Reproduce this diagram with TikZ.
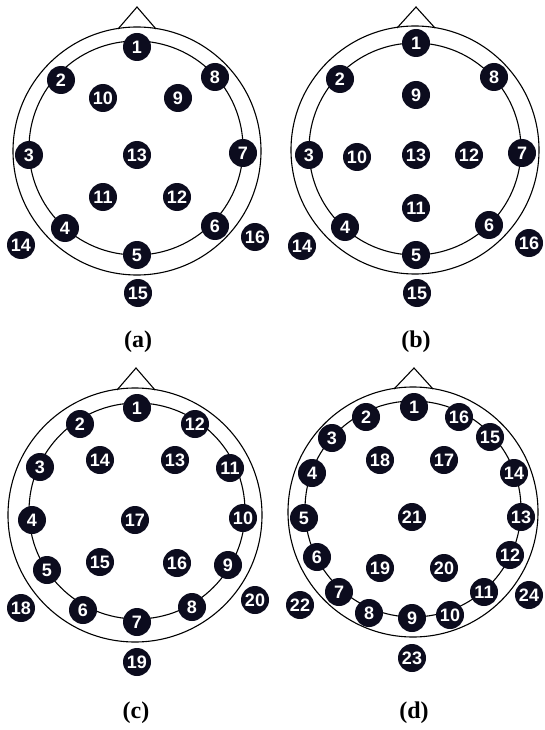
\documentclass[tikz,border=0pt]{standalone}
\usepackage{fontspec}
\setmainfont{Liberation Serif}
\setsansfont{Liberation Sans}
\usepackage{tikz}
\definecolor{elecfill}{RGB}{12,12,30}

\begin{document}
\begin{tikzpicture}[
  x=1pt, y=-1pt,
  head/.style={draw, line width=1.1pt},
  elec/.style={circle, fill=elecfill, text=white, minimum size=28pt, inner sep=0pt,
    font=\sffamily\bfseries\fontsize{18}{18}\selectfont},
  caption/.style={font=\bfseries\fontsize{24}{24}\selectfont}
]
\useasboundingbox (0,0) rectangle (544,730);

% heads
\draw[head] (137,151) circle[radius=124pt];
\draw[head] (136,148) circle[radius=107pt];
\draw[head] (118,29) -- (137,7) -- (156,29);
\draw[head] (415,150) circle[radius=124pt];
\draw[head] (415,149) circle[radius=106pt];
\draw[head] (397,28) -- (416,7) -- (435,28);
\draw[head] (135,515) circle[radius=127pt];
\draw[head] (137,511) circle[radius=108pt];
\draw[head] (117,390) -- (136,368) -- (155,390);
\draw[head] (413,512) circle[radius=125pt];
\draw[head] (413,509) circle[radius=108pt];
\draw[head] (394,389) -- (414,368) -- (433,389);

% (a)
\node[elec] (a1) at (137,47) {1};
\node[elec] (a2) at (61,80) {2};
\node[elec] (a8) at (215,77) {8};
\node[elec] (a10) at (103,98) {10};
\node[elec] (a9) at (178,98) {9};
\node[elec] (a3) at (29,155) {3};
\node[elec] (a13) at (137,155) {13};
\node[elec] (a7) at (243,153) {7};
\node[elec] (a11) at (103,197) {11};
\node[elec] (a12) at (177,197) {12};
\node[elec] (a4) at (65,228) {4};
\node[elec] (a6) at (215,226) {6};
\node[elec] (a5) at (137,255) {5};
\node[elec] (a14) at (21,245) {14};
\node[elec] (a16) at (255,237) {16};
\node[elec] (a15) at (138,293) {15};
\node[caption] (capa) at (138,342) {(a)};

% (b)
\node[elec] (b1) at (416,43) {1};
\node[elec] (b2) at (340,79) {2};
\node[elec] (b8) at (494,77) {8};
\node[elec] (b9) at (416,95) {9};
\node[elec] (b3) at (309,155) {3};
\node[elec] (b10) at (357,157) {10};
\node[elec] (b13) at (416,155) {13};
\node[elec] (b12) at (469,155) {12};
\node[elec] (b7) at (522,153) {7};
\node[elec] (b11) at (416,208) {11};
\node[elec] (b4) at (345,227) {4};
\node[elec] (b6) at (489,225) {6};
\node[elec] (b5) at (416,255) {5};
\node[elec] (b14) at (302,246) {14};
\node[elec] (b16) at (529,243) {16};
\node[elec] (b15) at (417,293) {15};
\node[caption] (capb) at (416,342) {(b)};

% (c)
\node[elec] (c1) at (137,408) {1};
\node[elec] (c2) at (80,424) {2};
\node[elec] (c12) at (195,424) {12};
\node[elec] (c14) at (100,460) {14};
\node[elec] (c13) at (175,460) {13};
\node[elec] (c3) at (40,467) {3};
\node[elec] (c11) at (230,468) {11};
\node[elec] (c4) at (32,520) {4};
\node[elec] (c17) at (135,520) {17};
\node[elec] (c10) at (243,518) {10};
\node[elec] (c15) at (100,562) {15};
\node[elec] (c16) at (177,563) {16};
\node[elec] (c5) at (47,570) {5};
\node[elec] (c9) at (228,565) {9};
\node[elec] (c18) at (21,608) {18};
\node[elec] (c6) at (83,610) {6};
\node[elec] (c7) at (137,622) {7};
\node[elec] (c8) at (192,607) {8};
\node[elec] (c20) at (255,600) {20};
\node[elec] (c19) at (137,662) {19};
\node[caption] (capc) at (136,713) {(c)};

% (d)
\node[elec] (d1) at (414,407) {1};
\node[elec] (d2) at (366,417) {2};
\node[elec] (d16) at (459,417) {16};
\node[elec] (d3) at (332,438) {3};
\node[elec] (d15) at (490,437) {15};
\node[elec] (d18) at (380,460) {18};
\node[elec] (d17) at (444,460) {17};
\node[elec] (d4) at (312,473) {4};
\node[elec] (d14) at (514,473) {14};
\node[elec] (d5) at (304,518) {5};
\node[elec] (d21) at (412,517) {21};
\node[elec] (d13) at (521,517) {13};
\node[elec] (d6) at (317,557) {6};
\node[elec] (d12) at (510,555) {12};
\node[elec] (d19) at (380,568) {19};
\node[elec] (d20) at (444,568) {20};
\node[elec] (d7) at (339,592) {7};
\node[elec] (d11) at (484,592) {11};
\node[elec] (d22) at (300,605) {22};
\node[elec] (d24) at (529,595) {24};
\node[elec] (d8) at (369,613) {8};
\node[elec] (d10) at (450,615) {10};
\node[elec] (d9) at (412,618) {9};
\node[elec] (d23) at (412,658) {23};
\node[caption] (capd) at (414,713) {(d)};
\end{tikzpicture}
\end{document}
